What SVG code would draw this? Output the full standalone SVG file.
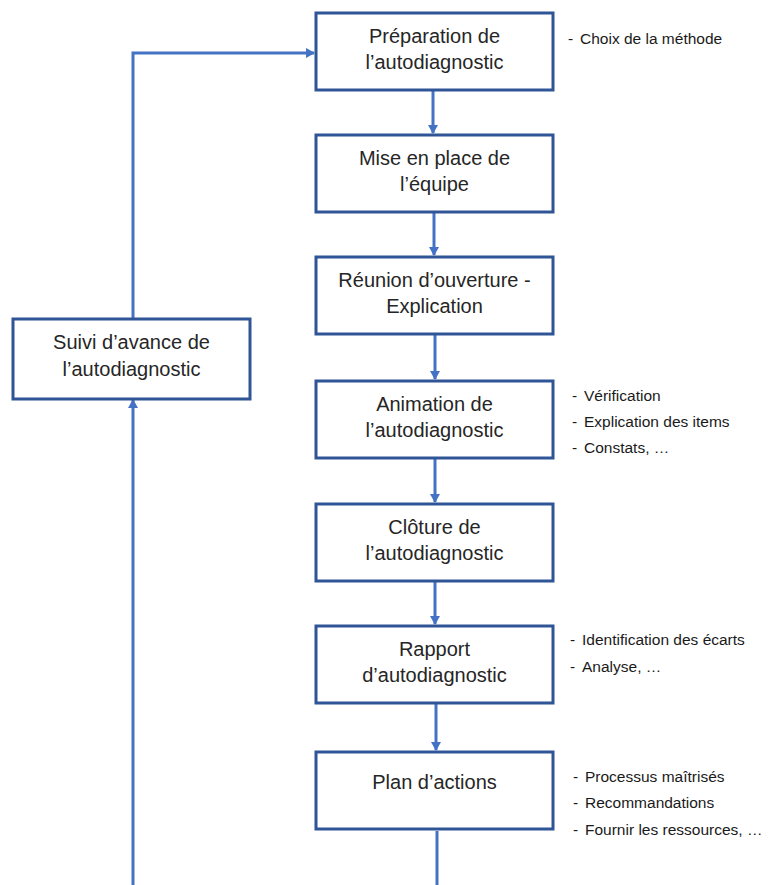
<svg xmlns="http://www.w3.org/2000/svg" width="778" height="885" viewBox="0 0 778 885">
  <style>
    .box { fill: #ffffff; stroke: #2f5597; stroke-width: 3; }
    .lbl { font-family: "Liberation Sans", Arial, sans-serif; font-size: 20px; fill: #262626; text-anchor: middle; }
    .note { font-family: "Liberation Sans", Arial, sans-serif; font-size: 15.5px; fill: #1a1a1a; }
    .link { fill: none; stroke: #4472c4; stroke-width: 3; }
  </style>
  <defs>
    <marker id="arrow" markerWidth="10" markerHeight="10" refX="8" refY="5" orient="auto" markerUnits="userSpaceOnUse">
      <path d="M0,0 L9,5 L0,10 z" fill="#4472c4"/>
    </marker>
  </defs>
  <rect width="778" height="885" fill="#ffffff"/>

  <g id="connectors">
    <line class="link" x1="433" y1="91" x2="433" y2="133" marker-end="url(#arrow)"/>
    <line class="link" x1="434" y1="213" x2="434" y2="255" marker-end="url(#arrow)"/>
    <line class="link" x1="435" y1="335" x2="435" y2="379" marker-end="url(#arrow)"/>
    <line class="link" x1="435" y1="459" x2="435" y2="502" marker-end="url(#arrow)"/>
    <line class="link" x1="435" y1="582" x2="435" y2="624" marker-end="url(#arrow)"/>
    <line class="link" x1="436" y1="704" x2="436" y2="750" marker-end="url(#arrow)"/>
    <line class="link" x1="437" y1="831" x2="437" y2="885"/>
    <line class="link" x1="133" y1="885" x2="133" y2="400" marker-end="url(#arrow)"/>
    <polyline class="link" points="133,318 133,53 314,53" marker-end="url(#arrow)"/>
  </g>

  <g id="n1">
    <rect class="box" x="316" y="13" width="237" height="77"/>
    <text class="lbl" x="434.5" y="43">Préparation de</text>
    <text class="lbl" x="434.5" y="69">l’autodiagnostic</text>
  </g>
  <g id="n2">
    <rect class="box" x="316" y="135" width="237" height="77"/>
    <text class="lbl" x="434.5" y="165">Mise en place de</text>
    <text class="lbl" x="434.5" y="191">l’équipe</text>
  </g>
  <g id="n3">
    <rect class="box" x="316" y="257" width="237" height="77"/>
    <text class="lbl" x="434.5" y="287">Réunion d’ouverture -</text>
    <text class="lbl" x="434.5" y="313">Explication</text>
  </g>
  <g id="n4">
    <rect class="box" x="316" y="381" width="237" height="77"/>
    <text class="lbl" x="434.5" y="411">Animation de</text>
    <text class="lbl" x="434.5" y="437">l’autodiagnostic</text>
  </g>
  <g id="n5">
    <rect class="box" x="316" y="504" width="237" height="77"/>
    <text class="lbl" x="434.5" y="534">Clôture de</text>
    <text class="lbl" x="434.5" y="560">l’autodiagnostic</text>
  </g>
  <g id="n6">
    <rect class="box" x="316" y="626" width="237" height="77"/>
    <text class="lbl" x="434.5" y="656">Rapport</text>
    <text class="lbl" x="434.5" y="682">d’autodiagnostic</text>
  </g>
  <g id="n7">
    <rect class="box" x="316" y="752" width="237" height="77"/>
    <text class="lbl" x="434.5" y="789">Plan d’actions</text>
  </g>
  <g id="n8">
    <rect class="box" x="13" y="319" width="237" height="80"/>
    <text class="lbl" x="131.5" y="349">Suivi d’avance de</text>
    <text class="lbl" x="131.5" y="376">l’autodiagnostic</text>
  </g>

  <g id="notes">
    <text class="note" y="44"><tspan x="568">-</tspan><tspan x="580">Choix de la méthode</tspan></text>
    <text class="note" y="401"><tspan x="572">-</tspan><tspan x="584">Vérification</tspan></text>
    <text class="note" y="427"><tspan x="572">-</tspan><tspan x="584">Explication des items</tspan></text>
    <text class="note" y="453"><tspan x="572">-</tspan><tspan x="584">Constats, …</tspan></text>
    <text class="note" y="645"><tspan x="570">-</tspan><tspan x="582">Identification des écarts</tspan></text>
    <text class="note" y="672"><tspan x="570">-</tspan><tspan x="582">Analyse, …</tspan></text>
    <text class="note" y="782"><tspan x="573">-</tspan><tspan x="585">Processus maîtrisés</tspan></text>
    <text class="note" y="808"><tspan x="573">-</tspan><tspan x="585">Recommandations</tspan></text>
    <text class="note" y="835"><tspan x="573">-</tspan><tspan x="585">Fournir les ressources, …</tspan></text>
  </g>
</svg>
